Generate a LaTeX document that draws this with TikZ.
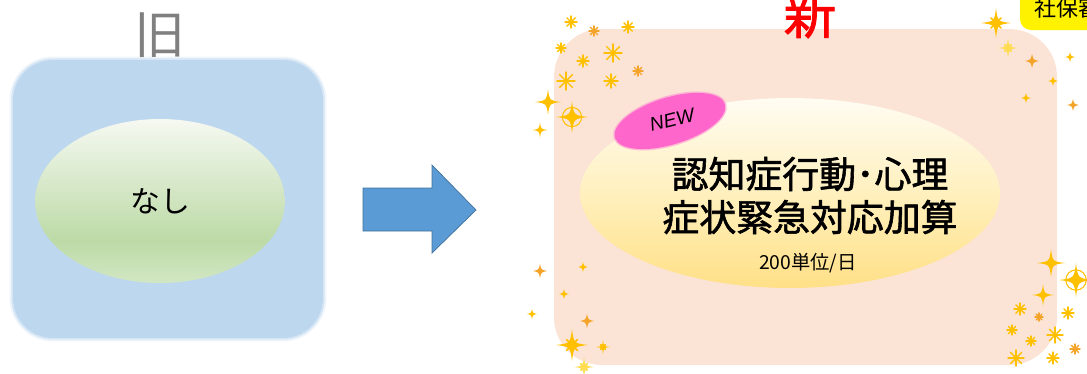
\documentclass[tikz,border=0pt]{standalone}
\usepackage{fontspec}
\usetikzlibrary{shapes.geometric}
\newfontfamily\jp{Noto Sans CJK JP}
\newfontfamily\jpb[FakeBold=1.6]{Noto Sans CJK JP}
\newfontfamily\lat{Liberation Sans}
\definecolor{oldblue}{HTML}{BDD7EE}
\definecolor{newpeach}{HTML}{FBE4D6}
\definecolor{arrowblue}{HTML}{5B9BD5}
\definecolor{arrowedge}{HTML}{41719C}
\definecolor{tagpink}{HTML}{FF66CC}
\definecolor{sgold}{HTML}{FFC000}
\definecolor{syel}{HTML}{FFDC50}
\definecolor{sorg}{HTML}{F5A42A}
\definecolor{gtop}{HTML}{F6F9F2}
\definecolor{gdark}{HTML}{BCDAA6}
\definecolor{gbot}{HTML}{D2E7C4}
\definecolor{ytop}{HTML}{FFFCF2}
\definecolor{ymid}{HTML}{FFF0BE}
\definecolor{ybot}{HTML}{FFE087}
\pgfdeclareverticalshading{greenell}{100bp}{color(0bp)=(gbot); color(25bp)=(gbot); color(38bp)=(gdark); color(75bp)=(gtop); color(100bp)=(gtop)}
\pgfdeclareverticalshading{yellell}{100bp}{color(0bp)=(ybot); color(25bp)=(ybot); color(50bp)=(ymid); color(75bp)=(ytop); color(100bp)=(ytop)}
\newcommand\thinstarpath{%
  \fill (0,-1) .. controls (0.11,-0.11) .. (1,0) .. controls (0.11,0.11) .. (0,1) .. controls (-0.11,0.11) .. (-1,0) .. controls (-0.11,-0.11) .. (0,-1) -- cycle;
  \fill[opacity=0.75] (0,0) circle (0.2);}
\tikzset{
  pics/aster/.style={code={
    \foreach \a in {0,45,...,315}{\draw[line width=0.8pt,line cap=round] (0,0) -- (\a:1);}
    \fill (0,0) circle (0.28);
  }},
  pics/dia/.style={code={
    \fill (0,-1) .. controls (0.18,-0.18) .. (1,0) .. controls (0.18,0.18) .. (0,1) .. controls (-0.18,0.18) .. (-1,0) .. controls (-0.18,-0.18) .. (0,-1) -- cycle;
  }},
  pics/thin/.style={code={\thinstarpath}},
  pics/ring/.style={code={
    \thinstarpath
    \draw[line width=0.6pt] (0,0) circle (0.6);
  }},
  pics/burst/.style={code={
    \thinstarpath
    \foreach \a in {45,135,225,315}{\draw[line width=0.9pt, line cap=round] (\a:0.33) -- (\a:0.48);}
    \fill (0,0) circle (0.22);
  }},
  oldbox/.style={draw=none, fill=oldblue, rounded corners=0.8cm, minimum width=6.2cm, minimum height=5.56cm},
  newbox/.style={draw=none, fill=newpeach, rounded corners=0.95cm, minimum width=10.06cm, minimum height=6.72cm},
  jptext/.style={font=\jp, inner sep=0pt},
}
\begin{document}
\begin{tikzpicture}[x=0.02cm, y=-0.02cm]
\useasboundingbox (0,0) rectangle (1087,373);
\clip (0,0) rectangle (1087,373);

% old side
\node[oldbox, opacity=0.25, minimum width=6.34cm, minimum height=5.7cm, rounded corners=0.87cm] (oldglow) at (168,199) {};
\node[oldbox, opacity=0.5, minimum width=6.27cm, minimum height=5.63cm, rounded corners=0.83cm] (oldglow2) at (168,199) {};
\node[oldbox] (old) at (168,199) {};
\node[jptext, text=black!50, font=\jp\fontsize{29}{29}\selectfont] (oldlabel) at (160,35) {旧};
\node[ellipse, shading=greenell, minimum width=5cm, minimum height=3.28cm, inner sep=0pt, font=\jp\fontsize{17}{17}\selectfont] (none) at (160,201) {なし};

% arrow
\draw[fill=arrowblue, draw=arrowedge, line width=0.4pt, line join=miter] (363,188) -- (432,188) -- (432,165) -- (476,210) -- (432,253) -- (432,231) -- (363,231) -- cycle;

% new side
\node[newbox] (new) at (805.5,197) {};
\node[jptext, text=red, font=\jpb\fontsize{30}{30}\selectfont] (newlabel) at (810,14) {新};

% yellow tag top right
\fill[yellow, rounded corners=0.22cm] (1020,-20) rectangle (1110,30);
\node[jptext, anchor=west, font=\jp\fontsize{12.5}{12.5}\selectfont] (sohoshin) at (1034,8) {社保審};

\node[ellipse, shading=yellell, minimum width=8.4cm, minimum height=3.8cm, inner sep=0pt] (addell) at (790,193) {};
\node[ellipse, fill=tagpink, opacity=0.4, minimum width=2.36cm, minimum height=1.0cm, rotate=17] (newtagglow) at (670,121) {};
\node[ellipse, fill=tagpink, minimum width=2.3cm, minimum height=0.94cm, rotate=17] (newtag) at (670,121) {};
\node[font=\lat\itshape\fontsize{11}{11}\selectfont, rotate=14, inner sep=0pt] (newtxt) at (672,120) {NEW};

\node[jptext, font=\jpb\fontsize{21}{21}\selectfont] (line1) at (810,174) {認知症行動･心理};
\node[jptext, font=\jpb\fontsize{21}{21}\selectfont] (line2) at (810,217) {症状緊急対応加算};
\node[jptext, font=\jp\fontsize{11}{11}\selectfont] (units) at (808,263) {200単位/日};

% sparkles top-left
\pic[scale=6, color=sgold] at (571,22) {aster};
\pic[scale=5, color=sorg] at (594,31) {aster};
\pic[scale=6, color=sgold] at (628,27) {aster};
\pic[scale=5, color=sgold] at (561,48) {aster};
\pic[scale=9, color=sgold] at (613,53) {aster};
\pic[scale=6, color=sgold] at (583,61) {aster};
\pic[scale=5, color=sorg] at (638,71) {aster};
\pic[scale=9, color=sgold] at (566,81) {aster};
\pic[scale=7, color=sgold] at (611,81) {aster};
\pic[scale=13, color=sgold] at (548,102) {thin};
\pic[scale=16, color=sgold] at (572,117) {ring};
\pic[scale=8, color=sgold] at (540,130) {thin};

% sparkles top-right
\pic[scale=15, color=sgold] at (996,23) {burst};
\pic[scale=10, color=syel] at (1008,48) {burst};
\pic[scale=7, color=sorg] at (1032,61) {dia};
\pic[scale=5, color=sgold] at (1070,57) {dia};
\pic[scale=5, color=sgold] at (1053,81) {dia};
\pic[scale=5, color=sgold] at (1026,98) {dia};
\pic[scale=6, color=sorg] at (1073,105) {dia};

% sparkles bottom-left
\pic[scale=7, color=sorg] at (540,271) {dia};
\pic[scale=5, color=sgold] at (583,267) {dia};
\pic[scale=5, color=sgold] at (564,294) {dia};
\pic[scale=5, color=sgold] at (532,314) {dia};
\pic[scale=7, color=sorg] at (587,321) {dia};
\pic[scale=16, color=sgold] at (572,345) {burst};
\pic[scale=7, color=sgold] at (603,347) {burst};
\pic[scale=10, color=syel] at (584,367) {burst};

% sparkles bottom-right
\pic[scale=14, color=sgold] at (1051,263) {thin};
\pic[scale=17, color=sgold] at (1076,280) {ring};
\pic[scale=11, color=sgold] at (1043,295) {thin};
\pic[scale=6, color=sgold] at (1020,309) {aster};
\pic[scale=4, color=sorg] at (1039,317) {aster};
\pic[scale=6, color=sgold] at (1068,313) {aster};
\pic[scale=5, color=sgold] at (1012,330) {aster};
\pic[scale=5, color=sgold] at (1031,341) {aster};
\pic[scale=8, color=sgold] at (1055,335) {aster};
\pic[scale=5, color=sorg] at (1075,349) {aster};
\pic[scale=8, color=sgold] at (1016,358) {aster};
\pic[scale=6, color=sgold] at (1053,358) {aster};
\end{tikzpicture}
\end{document}
